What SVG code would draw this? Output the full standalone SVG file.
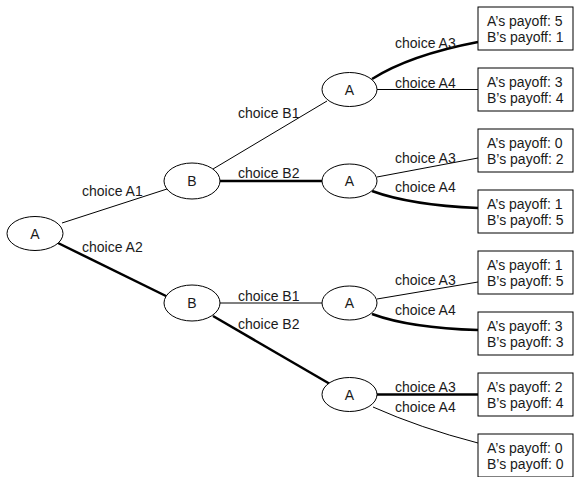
<svg xmlns="http://www.w3.org/2000/svg" width="575" height="477" viewBox="0 0 575 477">
<style>
text{font-family:"Liberation Sans",Arial,sans-serif;font-size:14px;fill:#1a1a1a}
.n ellipse{fill:#fff;stroke:#000;stroke-width:1}
.n text{text-anchor:middle}
.b rect{fill:#fff;stroke:#000;stroke-width:1}
.e path{fill:none;stroke:#000}
.t{stroke-width:1}
.k{stroke-width:2.5}
</style>
<rect width="575" height="477" fill="#fff"/>
<g id="edges" class="e">
<path class="t" d="M62,223 L167,189"/>
<path class="k" d="M58,243 L168,297"/>
<path class="t" d="M213,169 L327,101"/>
<path class="k" d="M220,181 L322,181"/>
<path class="t" d="M220,303 L322,303"/>
<path class="k" d="M213,316 L330,384"/>
<path class="k" d="M372,79 Q410,55 478,42"/>
<path class="t" d="M377,89.5 L478,89.5"/>
<path class="t" d="M377,177 L478,158"/>
<path class="k" d="M372,191 Q410,205 478,208"/>
<path class="t" d="M377,299 L478,282"/>
<path class="k" d="M372,314 Q410,328 478,330"/>
<path class="k" d="M377,394.5 L478,394.5"/>
<path class="t" d="M373,407 Q420,428 478,443"/>
</g>
<g id="labels">
<text x="82" y="196">choice A1</text>
<text x="82" y="252">choice A2</text>
<text x="238" y="118">choice B1</text>
<text x="238" y="178">choice B2</text>
<text x="238" y="301">choice B1</text>
<text x="238" y="329">choice B2</text>
<text x="395" y="48">choice A3</text>
<text x="395" y="88">choice A4</text>
<text x="395" y="163">choice A3</text>
<text x="395" y="192">choice A4</text>
<text x="395" y="285">choice A3</text>
<text x="395" y="315">choice A4</text>
<text x="395" y="392">choice A3</text>
<text x="395" y="412">choice A4</text>
</g>
<g id="root" class="n"><ellipse cx="35" cy="233.5" rx="28" ry="17"/><text x="35" y="238.5">A</text></g>
<g id="b1" class="n"><ellipse cx="192" cy="181" rx="28" ry="18"/><text x="192" y="186">B</text></g>
<g id="b2" class="n"><ellipse cx="192" cy="303" rx="28" ry="18"/><text x="192" y="308">B</text></g>
<g id="a1" class="n"><ellipse cx="349.5" cy="89.5" rx="27.5" ry="17"/><text x="349.5" y="94.5">A</text></g>
<g id="a2" class="n"><ellipse cx="349.5" cy="181" rx="27.5" ry="17"/><text x="349.5" y="186">A</text></g>
<g id="a3" class="n"><ellipse cx="349.5" cy="303" rx="27.5" ry="17"/><text x="349.5" y="308">A</text></g>
<g id="a4" class="n"><ellipse cx="349.5" cy="394.5" rx="27.5" ry="17"/><text x="349.5" y="399.5">A</text></g>
<g id="p1" class="b"><rect x="478" y="7" width="95" height="43"/><text x="487" y="26">A’s payoff: 5</text><text x="487" y="42">B’s payoff: 1</text></g>
<g id="p2" class="b"><rect x="478" y="68" width="95" height="43"/><text x="487" y="87">A’s payoff: 3</text><text x="487" y="103">B’s payoff: 4</text></g>
<g id="p3" class="b"><rect x="478" y="129" width="95" height="43"/><text x="487" y="148">A’s payoff: 0</text><text x="487" y="164">B’s payoff: 2</text></g>
<g id="p4" class="b"><rect x="478" y="190" width="95" height="43"/><text x="487" y="209">A’s payoff: 1</text><text x="487" y="225">B’s payoff: 5</text></g>
<g id="p5" class="b"><rect x="478" y="251" width="95" height="43"/><text x="487" y="270">A’s payoff: 1</text><text x="487" y="286">B’s payoff: 5</text></g>
<g id="p6" class="b"><rect x="478" y="312" width="95" height="43"/><text x="487" y="331">A’s payoff: 3</text><text x="487" y="347">B’s payoff: 3</text></g>
<g id="p7" class="b"><rect x="478" y="373" width="95" height="43"/><text x="487" y="392">A’s payoff: 2</text><text x="487" y="408">B’s payoff: 4</text></g>
<g id="p8" class="b"><rect x="478" y="434" width="95" height="43"/><text x="487" y="453">A’s payoff: 0</text><text x="487" y="469">B’s payoff: 0</text></g>
</svg>
